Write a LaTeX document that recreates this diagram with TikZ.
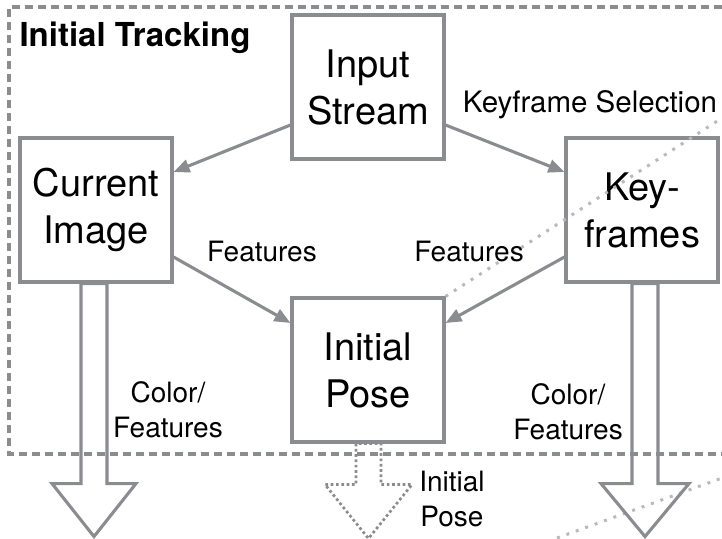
\documentclass[tikz,border=0pt]{standalone}
\usepackage{fontspec}
\setmainfont{TeX Gyre Heros}
\usetikzlibrary{arrows.meta}

\definecolor{linegray}{RGB}{138,140,144}
\definecolor{dotgray}{RGB}{185,186,189}

\begin{document}
\begin{tikzpicture}[
      x=1pt, y=1pt,
      line width=3.1pt,
      inner sep=0pt,
      box/.style={draw=linegray, minimum width=152pt, minimum height=144pt,
        align=center, font=\fontsize{38}{47}\selectfont},
      lbl/.style={align=center, font=\fontsize{28}{35}\selectfont},
      flow/.style={draw=linegray, -{Triangle[length=16pt,width=13pt]}},
      fat/.style={draw=linegray, line join=miter},
      fatdots/.style={draw=linegray, line width=2.7pt, dash pattern=on 2.7pt off 2.6pt},
      dots/.style={draw=dotgray, line width=3pt, dash pattern=on 3pt off 7pt}]

    % page
    \useasboundingbox (0,0) rectangle (722,538);

    % tracking frame
    \draw[linegray, dash pattern=on 8pt off 5pt] (722,531) -- (9,531) -- (9,84) -- (722,84);
    \node[anchor=base west, font=\fontsize{33}{39}\selectfont\bfseries] (title) at (18,491) {Initial Tracking};

    % boxes
    \node (stream) at (368,451) [box] {Input\\Stream};
    \node (current) at (96,328) [box] {Current\\Image};
    \node (keys) at (642,328) [box] {Key-\\frames};
    \node (pose) at (368,168) [box] {Initial\\Pose};

    % dotted guide lines
    \coordinate (farend) at (722,420);
    \coordinate (lowa) at (557,0);
    \coordinate (lowb) at (722,60);
    \draw[dots] (pose.north east) -- (farend);
    \draw[dots] (lowa) -- (lowb);

    % wiring
    \draw[flow] ([yshift=-38pt]stream.west) -- ([yshift=38pt]current.east);
    \draw[flow] ([yshift=-38pt]stream.east) -- ([yshift=38pt]keys.west);
    \draw[flow] ([yshift=-47pt]current.east) -- ([yshift=47pt]pose.west);
    \draw[flow] ([yshift=-47pt]keys.west) -- ([yshift=47pt]pose.east);

    % outputs
    \draw[fat] ([xshift=-15pt]current.south) -- ++(0,-200) -- ++(-29,0) -- ++(42,-53) -- ++(42,53) -- ++(-29,0) -- ++(0,200) -- cycle;
    \draw[fat] ([xshift=-10pt]keys.south) -- ++(0,-200) -- ++(-31,0) -- ++(44,-53) -- ++(44,53) -- ++(-31,0) -- ++(0,200) -- cycle;
    \draw[fatdots] ([xshift=-12pt]pose.south) -- ++(0,-41) -- ++(-31,0) -- ++(43.5,-54) -- ++(43.5,54) -- ++(-31,0) -- ++(0,41) -- cycle;

    % labels
    \node[lbl, anchor=base, font=\fontsize{29.5}{35}\selectfont] (sel) at (590,425) {Keyframe Selection};
    \node[lbl, anchor=base] (featl) at (262,276) {Features};
    \node[lbl, anchor=base] (featr) at (469,276) {Features};
    \node[lbl] (colorl) at (168,128) {Color/\\Features};
    \node[lbl] (colorr) at (568,126) {Color/\\Features};
    \node[lbl] (poselbl) at (452,39) {Initial\\Pose};

  \end{tikzpicture}
\end{document}
